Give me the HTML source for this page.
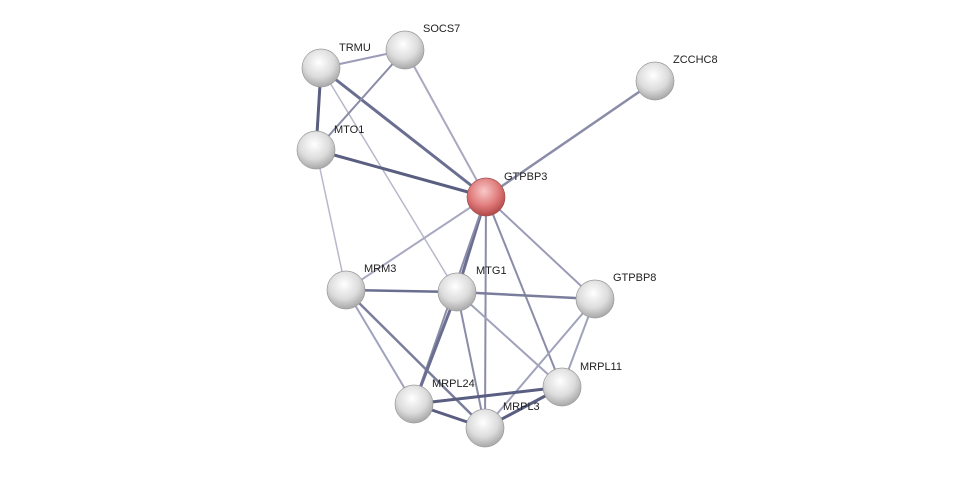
<!DOCTYPE html>
<html><head><style>
html,body{margin:0;padding:0;background:#fff;}
svg text{font-family:"Liberation Sans",sans-serif;font-size:11px;fill:#222;}
</style></head><body>
<svg width="975" height="473" viewBox="0 0 975 473" xmlns="http://www.w3.org/2000/svg">
<defs>
<radialGradient id="g" cx="45%" cy="35%" r="65%">
<stop offset="0" stop-color="#ffffff"/><stop offset="0.6" stop-color="#dcdcdc"/><stop offset="1" stop-color="#a8a8a8"/>
</radialGradient>
<radialGradient id="r" cx="45%" cy="35%" r="65%">
<stop offset="0" stop-color="#f8c8c8"/><stop offset="0.6" stop-color="#e07a7a"/><stop offset="1" stop-color="#b04848"/>
</radialGradient>
</defs>
<g stroke-linecap="round">
<line x1="321" y1="68" x2="405" y2="50" stroke="#9c9cb8" stroke-width="2"/>
<line x1="321" y1="68" x2="316" y2="150" stroke="#5a5e80" stroke-width="3"/>
<line x1="321" y1="68" x2="486" y2="197" stroke="#6a6e90" stroke-width="3"/>
<line x1="321" y1="68" x2="457" y2="292" stroke="#b8b8cc" stroke-width="1.5"/>
<line x1="405" y1="50" x2="316" y2="150" stroke="#8a8ca8" stroke-width="2"/>
<line x1="405" y1="50" x2="486" y2="197" stroke="#a8a8c0" stroke-width="2"/>
<line x1="316" y1="150" x2="486" y2="197" stroke="#5a5e80" stroke-width="3"/>
<line x1="316" y1="150" x2="346" y2="290" stroke="#b8b8cc" stroke-width="1.5"/>
<line x1="655" y1="81" x2="486" y2="197" stroke="#8a8ca8" stroke-width="2.5"/>
<line x1="486" y1="197" x2="346" y2="290" stroke="#a8a8c0" stroke-width="2"/>
<line x1="486" y1="197" x2="457" y2="292" stroke="#6a6e90" stroke-width="3"/>
<line x1="486" y1="197" x2="595" y2="299" stroke="#9c9cb8" stroke-width="2"/>
<line x1="486" y1="197" x2="562" y2="387" stroke="#8a8ca8" stroke-width="2"/>
<line x1="486" y1="197" x2="414" y2="404" stroke="#8a8ca8" stroke-width="2"/>
<line x1="486" y1="197" x2="485" y2="428" stroke="#8a8ca8" stroke-width="2"/>
<line x1="346" y1="290" x2="457" y2="292" stroke="#6a6e90" stroke-width="2.5"/>
<line x1="346" y1="290" x2="414" y2="404" stroke="#a0a2bc" stroke-width="2"/>
<line x1="346" y1="290" x2="485" y2="428" stroke="#7a7e9c" stroke-width="2.5"/>
<line x1="457" y1="292" x2="595" y2="299" stroke="#7a7e9c" stroke-width="2.5"/>
<line x1="457" y1="292" x2="414" y2="404" stroke="#6a6e90" stroke-width="3"/>
<line x1="457" y1="292" x2="485" y2="428" stroke="#8a8ca8" stroke-width="2"/>
<line x1="457" y1="292" x2="562" y2="387" stroke="#a0a2bc" stroke-width="2"/>
<line x1="595" y1="299" x2="485" y2="428" stroke="#a0a2bc" stroke-width="2"/>
<line x1="595" y1="299" x2="562" y2="387" stroke="#a0a2bc" stroke-width="2"/>
<line x1="414" y1="404" x2="562" y2="387" stroke="#5a5e80" stroke-width="3"/>
<line x1="414" y1="404" x2="485" y2="428" stroke="#5a5e80" stroke-width="3"/>
<line x1="485" y1="428" x2="562" y2="387" stroke="#5a5e80" stroke-width="3"/>
</g>
<g>
<circle cx="321" cy="68" r="19" fill="url(#g)" stroke="#999" stroke-width="0.7"/>
<circle cx="405" cy="50" r="19" fill="url(#g)" stroke="#999" stroke-width="0.7"/>
<circle cx="655" cy="81" r="19" fill="url(#g)" stroke="#999" stroke-width="0.7"/>
<circle cx="316" cy="150" r="19" fill="url(#g)" stroke="#999" stroke-width="0.7"/>
<circle cx="486" cy="197" r="19" fill="url(#r)" stroke="#a05050" stroke-width="0.7"/>
<circle cx="346" cy="290" r="19" fill="url(#g)" stroke="#999" stroke-width="0.7"/>
<circle cx="457" cy="292" r="19" fill="url(#g)" stroke="#999" stroke-width="0.7"/>
<circle cx="595" cy="299" r="19" fill="url(#g)" stroke="#999" stroke-width="0.7"/>
<circle cx="562" cy="387" r="19" fill="url(#g)" stroke="#999" stroke-width="0.7"/>
<circle cx="414" cy="404" r="19" fill="url(#g)" stroke="#999" stroke-width="0.7"/>
<circle cx="485" cy="428" r="19" fill="url(#g)" stroke="#999" stroke-width="0.7"/>
</g>
<text x="339" y="51">TRMU</text>
<text x="423" y="32">SOCS7</text>
<text x="673" y="63">ZCCHC8</text>
<text x="334" y="133">MTO1</text>
<text x="504" y="180">GTPBP3</text>
<text x="364" y="272">MRM3</text>
<text x="476" y="274">MTG1</text>
<text x="613" y="281">GTPBP8</text>
<text x="580" y="370">MRPL11</text>
<text x="432" y="387">MRPL24</text>
<text x="503" y="410">MRPL3</text>
</svg>
</body></html>
